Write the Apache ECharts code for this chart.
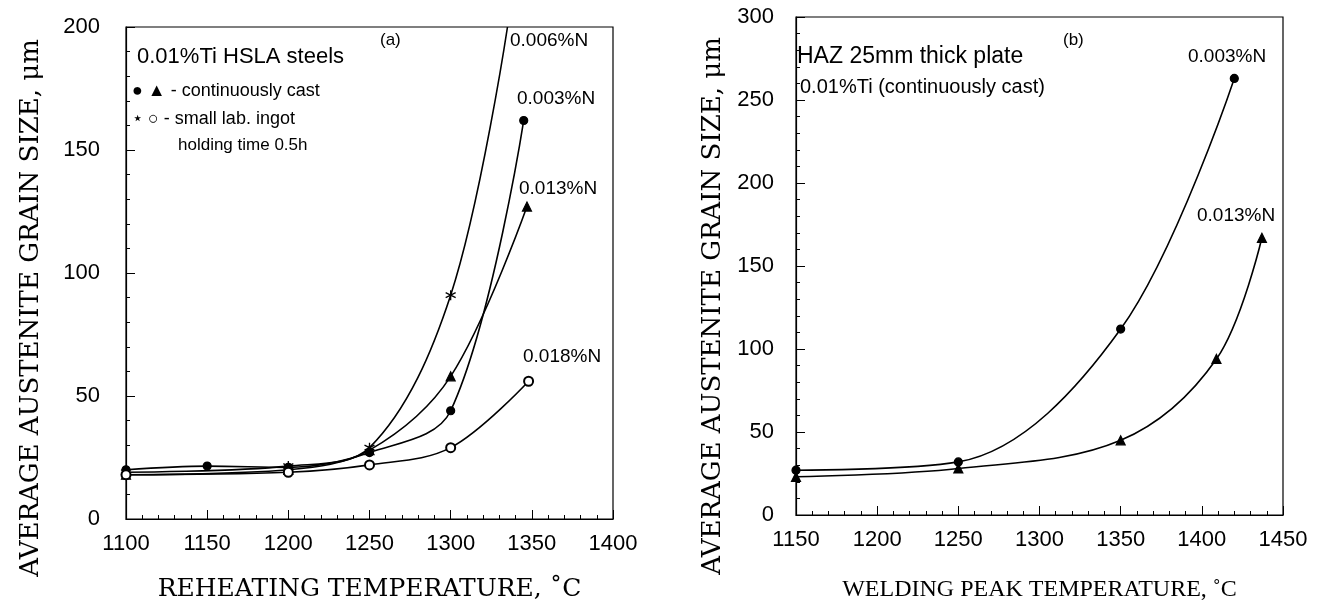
<!DOCTYPE html>
<html>
<head>
<meta charset="utf-8">
<script src="https://cdn.jsdelivr.net/npm/echarts@6/dist/echarts.min.js"></script>
<style>
html,body{margin:0;padding:0;background:#fff;}
#chart{width:1329px;height:609px;}
</style>
</head>
<body>
<div id="chart"></div>
<script>
// ---- Panel (a): reheating temperature ----
var aXTicks = [1100, 1150, 1200, 1250, 1300, 1350, 1400];
var aYTicks = [0, 50, 100, 150, 200];
var a006N = [[1100, 19], [1200, 21.5], [1250, 29], [1300, 91], [1335, 200]];   // stars (last point: curve leaves frame)
var a003N = [[1100, 20], [1150, 21.5], [1200, 21], [1250, 27], [1300, 44], [1345, 162]]; // filled circles
var a013N = [[1100, 18], [1200, 20], [1250, 28], [1300, 58], [1347, 127]];     // filled triangles
var a018N = [[1100, 18], [1200, 19], [1250, 22], [1300, 29], [1348, 56]];      // open circles

// ---- Panel (b): welding peak temperature ----
var bXTicks = [1150, 1200, 1250, 1300, 1350, 1400, 1450];
var bYTicks = [0, 50, 100, 150, 200, 250, 300];
var b003N = [[1150, 27], [1250, 32], [1350, 112], [1420, 263]];               // filled circles
var b013N = [[1150, 23], [1250, 28], [1350, 45], [1409, 94], [1437, 167]];    // filled triangles

var starPath = 'path://M5,0 L5,10 M0.7,2.5 L9.3,7.5 M0.7,7.5 L9.3,2.5';

var chart = echarts.init(document.getElementById('chart'));
var plain = function (v) { return String(v); };

function xAxisCfg(gi, ticks, title, font, fsize, gap) {
  return {
    type: 'value', gridIndex: gi,
    min: ticks[0], max: ticks[ticks.length - 1], interval: 50,
    name: title, nameLocation: 'middle', nameGap: gap,
    nameTextStyle: {fontFamily: font, fontSize: fsize, color: '#000'},
    axisLine: {show: true, onZero: false, lineStyle: {color: '#000', width: 1.2}},
    axisTick: {show: true, inside: true, length: 9, lineStyle: {color: '#000'}},
    minorTick: {show: true, splitNumber: 5, length: 4, lineStyle: {color: '#000'}},
    axisLabel: {fontFamily: 'Liberation Sans', fontSize: 22, color: '#000', margin: 14, formatter: plain},
    splitLine: {show: false}
  };
}
function yAxisCfg(gi, ticks, title, pad, gap, lm) {
  return {
    type: 'value', gridIndex: gi,
    min: ticks[0], max: ticks[ticks.length - 1], interval: 50,
    name: title, nameLocation: 'middle', nameGap: gap, nameRotate: 90,
    nameTextStyle: {fontFamily: 'DejaVu Serif', fontSize: 26, color: '#000', padding: [0, pad, 0, 0]},
    axisLine: {show: true, onZero: false, lineStyle: {color: '#000', width: 1.2}},
    axisTick: {show: true, inside: true, length: 9, lineStyle: {color: '#000'}},
    minorTick: {show: true, splitNumber: 5, length: 4, lineStyle: {color: '#000'}},
    axisLabel: {fontFamily: 'Liberation Sans', fontSize: 22, color: '#000', margin: lm, formatter: plain},
    splitLine: {show: false}
  };
}
function lineSeries(xi, data, symbol, size) {
  return {
    type: 'line', xAxisIndex: xi, yAxisIndex: xi, data: data,
    smooth: 0.35, clip: true,
    symbol: symbol, symbolSize: size, showAllSymbol: true,
    lineStyle: {color: '#000', width: 1.6},
    itemStyle: {color: '#000', borderColor: '#000', borderWidth: 1.2},
    emphasis: {disabled: true},
    z: 3
  };
}

var s006 = lineSeries(0, a006N.map(function (p, i) {
  return i === a006N.length - 1 ? {value: p, symbol: 'none'} : p;
}), starPath, 10);
s006.itemStyle = {color: 'none', borderColor: '#000', borderWidth: 1.3};

var txt = function (x, y, t, size) {
  return {type: 'text', left: x, top: y, z: 10,
    style: {fill: '#000', text: t, fontFamily: 'Liberation Sans', fontSize: size}};
};

chart.setOption({
  backgroundColor: '#fff',
  animation: false,
  grid: [
    {left: 126, top: 27, width: 487, height: 492, show: true, borderColor: '#000', borderWidth: 1.2, backgroundColor: 'transparent'},
    {left: 796, top: 17, width: 487, height: 498, show: true, borderColor: '#000', borderWidth: 1.2, backgroundColor: 'transparent'}
  ],
  xAxis: [
    xAxisCfg(0, aXTicks, 'REHEATING TEMPERATURE, ˚C', 'DejaVu Serif', 25, 58),
    xAxisCfg(1, bXTicks, 'WELDING PEAK TEMPERATURE, ˚C', 'Liberation Serif', 24, 63)
  ],
  yAxis: [
    yAxisCfg(0, aYTicks, 'AVERAGE AUSTENITE GRAIN SIZE, μm', 70, 82, 26),
    yAxisCfg(1, bYTicks, 'AVERAGE AUSTENITE GRAIN SIZE, μm', 80, 70, 22)
  ],
  series: [
    s006,
    lineSeries(0, a003N, 'circle', 8),
    lineSeries(0, a013N, 'triangle', 9),
    lineSeries(0, a018N, 'emptyCircle', 9),
    lineSeries(1, b003N, 'circle', 8),
    lineSeries(1, b013N, 'triangle', 9)
  ],
  graphic: [
    txt(137, 46, '0.01%Ti HSLA steels', 22),
    txt(132, 82, '● ▲ - continuously cast', 18),
    txt(132, 110, '⋆ ○ - small lab. ingot', 18),
    txt(178, 137, 'holding time 0.5h', 17),
    txt(380, 32, '(a)', 17),
    txt(510, 31, '0.006%N', 19),
    txt(517, 89, '0.003%N', 19),
    txt(519, 179, '0.013%N', 19),
    txt(523, 347, '0.018%N', 19),
    txt(797, 45, 'HAZ 25mm thick plate', 23),
    txt(800, 77, '0.01%Ti (continuously cast)', 20),
    txt(1063, 32, '(b)', 17),
    txt(1188, 47, '0.003%N', 19),
    txt(1197, 206, '0.013%N', 19)
  ]
});
</script>
</body>
</html>
